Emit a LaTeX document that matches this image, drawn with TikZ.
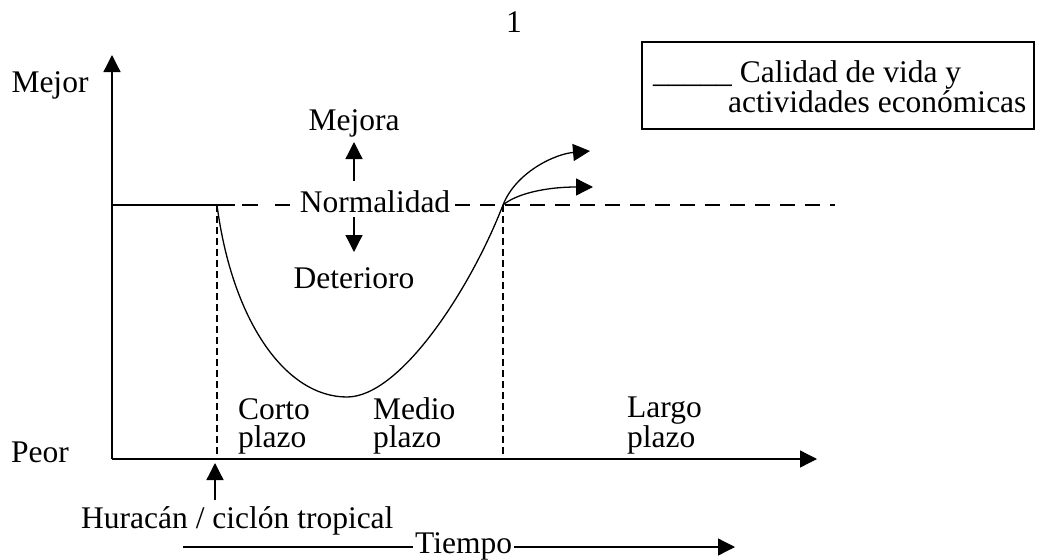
\documentclass[tikz,border=0pt]{standalone}
\usepackage{fontspec}
\setmainfont{Liberation Serif}
\usetikzlibrary{arrows.meta}
\begin{document}
\begin{tikzpicture}[x=1pt,y=-1pt,
  txt/.style={inner sep=0pt,font=\fontsize{31.5}{28}\selectfont},
  ln/.style={line width=1.3pt},
  arr/.style={ln,-{Triangle[length=17pt,width=17pt]}},
  dashh/.style={ln,dash pattern=on 15pt off 10pt},
  dashl/.style={ln,dash pattern=on 0pt off 7pt on 16pt off 17pt on 15pt off 30pt},
  dashv/.style={line width=1.8pt,dash pattern=on 7pt off 4pt},
  legendbox/.style={draw,line width=1.3pt}]
\useasboundingbox (0,0) rectangle (1037,560);
% coordinates
\coordinate (O) at (112,459);
\coordinate (Ytop) at (112,55);
\coordinate (Xend) at (817,459);
\coordinate (N0) at (112,205);
\coordinate (N1) at (235,205);
\coordinate (Nend) at (835,205);
\coordinate (S) at (217,205);
\coordinate (Sb) at (217,459);
\coordinate (C) at (503,205);
\coordinate (Cb) at (503,459);
\coordinate (Min) at (347,397);
\coordinate (T1) at (590,151);
\coordinate (T2) at (593,187);
\coordinate (MejA) at (354,181);
\coordinate (MejB) at (354,142);
\coordinate (DetA) at (354,217);
\coordinate (DetB) at (354,252);
\coordinate (HurA) at (215,500);
\coordinate (HurB) at (215,463);
\coordinate (TiA) at (183,547);
\coordinate (TiB) at (735,547);
% texts
\node[txt,anchor=base] (one) at (514,32) {1};
\node[txt,anchor=base] (mejor) at (50,92) {Mejor};
\node[txt,anchor=base] (peor) at (40,462) {Peor};
\node[txt,anchor=base] (mejora) at (354,130) {Mejora};
\node[txt,anchor=base,inner xsep=5pt] (normal) at (375,212) {Normalidad};
\node[txt,anchor=base] (deter) at (354,288) {Deterioro};
\node[txt,anchor=base west,align=left] (corto) at (238,447) {Corto\\plazo};
\node[txt,anchor=base west,align=left] (medio) at (373,447) {Medio\\plazo};
\node[txt,anchor=base west,align=left] (largo) at (627,447) {Largo\\plazo};
\node[txt,anchor=base west] (hur) at (81,528) {Huracán / ciclón tropical};
\node[txt,anchor=base west,inner xsep=2pt] (tiempo) at (413,553) {Tiempo};
% legend
\draw[legendbox] (642,42) rectangle (1034,129);
\node[txt,anchor=base west,align=left] (leg) at (653,112) {\_\_\_\_\_ Calidad de vida y\\\hspace*{75pt}actividades económicas};
% axes
\draw[arr] (O) -- (Ytop);
\draw[arr] (O) -- (Xend);
% normal line
\draw[ln] (N0) -- (N1);
\draw[dashl] (N1) -- (normal.west |- N1);
\draw[dashh] (normal.east |- N1) -- (Nend);
% vertical dashed
\draw[dashv] (S) -- (Sb);
\draw[dashv] (C) -- (Cb);
% curve
\draw[ln] (S) .. controls (232,320) and (285,397) .. (Min)
  .. controls (400,397) and (470,290) .. (C);
\draw[arr] (C) .. controls (516,172) and (555,154) .. (T1);
\draw[arr] (C) .. controls (516,194) and (545,187) .. (T2);
% small arrows
\draw[arr] (MejA) -- (MejB);
\draw[arr] (DetA) -- (DetB);
\draw[arr] (HurA) -- (HurB);
% tiempo
\draw[ln] (TiA) -- (tiempo.west |- TiA);
\draw[arr] (tiempo.east |- TiA) -- (TiB);
\end{tikzpicture}
\end{document}
